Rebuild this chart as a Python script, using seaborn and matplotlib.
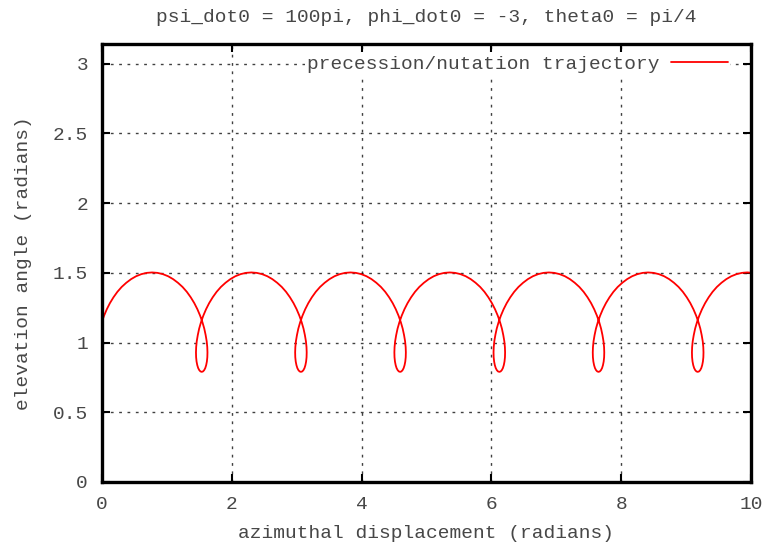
import numpy as np
import pandas as pd
import seaborn as sns
import matplotlib.pyplot as plt

# azimuth / elevation of the top's axis (one row per nutation period)
azimuth = [
    -0.032, -0.003, 0.032, 0.074, 0.122, 0.177, 0.237, 0.303, 0.374, 0.448, 0.526, 0.607, 0.689,
    0.772, 0.855, 0.937, 1.018, 1.096, 1.170, 1.241, 1.307, 1.367, 1.422, 1.470, 1.512,
    1.547, 1.576, 1.597, 1.613, 1.622, 1.625, 1.623, 1.616, 1.605, 1.591, 1.574, 1.556,

    1.537, 1.517, 1.499, 1.482, 1.468, 1.457, 1.450, 1.448, 1.451, 1.460, 1.476, 1.497,
    1.526, 1.561, 1.603, 1.651, 1.706, 1.766, 1.832, 1.903, 1.977, 2.055, 2.136, 2.218,
    2.301, 2.384, 2.466, 2.547, 2.625, 2.699, 2.770, 2.836, 2.896, 2.951, 2.999, 3.041,
    3.076, 3.105, 3.126, 3.142, 3.151, 3.154, 3.152, 3.145, 3.134, 3.120, 3.103, 3.085,

    3.065, 3.045, 3.027, 3.010, 2.996, 2.985, 2.978, 2.976, 2.979, 2.988, 3.004, 3.025,
    3.054, 3.089, 3.131, 3.179, 3.234, 3.294, 3.360, 3.431, 3.505, 3.583, 3.664, 3.746,
    3.829, 3.912, 3.994, 4.075, 4.153, 4.227, 4.298, 4.364, 4.424, 4.479, 4.527, 4.569,
    4.604, 4.633, 4.654, 4.670, 4.679, 4.682, 4.680, 4.673, 4.662, 4.648, 4.631, 4.613,

    4.594, 4.574, 4.556, 4.539, 4.525, 4.514, 4.507, 4.505, 4.508, 4.517, 4.533, 4.554,
    4.583, 4.618, 4.660, 4.708, 4.763, 4.823, 4.889, 4.960, 5.034, 5.112, 5.193, 5.275,
    5.358, 5.441, 5.523, 5.604, 5.682, 5.756, 5.827, 5.893, 5.953, 6.008, 6.056, 6.098,
    6.133, 6.162, 6.183, 6.199, 6.208, 6.211, 6.209, 6.202, 6.191, 6.177, 6.160, 6.142,

    6.122, 6.102, 6.084, 6.067, 6.053, 6.042, 6.035, 6.033, 6.036, 6.045, 6.061, 6.082,
    6.111, 6.146, 6.188, 6.236, 6.291, 6.351, 6.417, 6.488, 6.562, 6.640, 6.721, 6.803,
    6.886, 6.969, 7.051, 7.132, 7.210, 7.284, 7.355, 7.421, 7.481, 7.536, 7.584, 7.626,
    7.661, 7.690, 7.711, 7.727, 7.736, 7.739, 7.737, 7.730, 7.719, 7.705, 7.688, 7.670,

    7.651, 7.631, 7.613, 7.596, 7.582, 7.571, 7.564, 7.562, 7.565, 7.574, 7.590, 7.611,
    7.640, 7.675, 7.717, 7.765, 7.820, 7.880, 7.946, 8.017, 8.091, 8.169, 8.250, 8.332,
    8.415, 8.498, 8.580, 8.661, 8.739, 8.813, 8.884, 8.950, 9.010, 9.065, 9.113, 9.155,
    9.190, 9.219, 9.240, 9.256, 9.265, 9.268, 9.266, 9.259, 9.248, 9.234, 9.217, 9.199,

    9.179, 9.159, 9.141, 9.124, 9.110, 9.099, 9.092, 9.090, 9.093, 9.102, 9.118, 9.139,
    9.168, 9.203, 9.245, 9.293, 9.348, 9.408, 9.474, 9.545, 9.619, 9.697, 9.778, 9.860,
    9.943, 10.026, 10.108,
]
elevation = [
    1.100, 1.147, 1.193, 1.239, 1.283, 1.325, 1.364, 1.399, 1.429, 1.455, 1.476, 1.491, 1.500,
    1.503, 1.500, 1.491, 1.476, 1.455, 1.429, 1.399, 1.364, 1.325, 1.283, 1.239, 1.193,
    1.147, 1.100, 1.054, 1.010, 0.968, 0.930, 0.895, 0.864, 0.838, 0.817, 0.802, 0.793,

    0.790, 0.793, 0.802, 0.817, 0.838, 0.864, 0.895, 0.930, 0.968, 1.010, 1.054, 1.100,
    1.147, 1.193, 1.239, 1.283, 1.325, 1.364, 1.399, 1.429, 1.455, 1.476, 1.491, 1.500,
    1.503, 1.500, 1.491, 1.476, 1.455, 1.429, 1.399, 1.364, 1.325, 1.283, 1.239, 1.193,
    1.147, 1.100, 1.054, 1.010, 0.968, 0.930, 0.895, 0.864, 0.838, 0.817, 0.802, 0.793,

    0.790, 0.793, 0.802, 0.817, 0.838, 0.864, 0.895, 0.930, 0.968, 1.010, 1.054, 1.100,
    1.147, 1.193, 1.239, 1.283, 1.325, 1.364, 1.399, 1.429, 1.455, 1.476, 1.491, 1.500,
    1.503, 1.500, 1.491, 1.476, 1.455, 1.429, 1.399, 1.364, 1.325, 1.283, 1.239, 1.193,
    1.147, 1.100, 1.054, 1.010, 0.968, 0.930, 0.895, 0.864, 0.838, 0.817, 0.802, 0.793,

    0.790, 0.793, 0.802, 0.817, 0.838, 0.864, 0.895, 0.930, 0.968, 1.010, 1.054, 1.100,
    1.147, 1.193, 1.239, 1.283, 1.325, 1.364, 1.399, 1.429, 1.455, 1.476, 1.491, 1.500,
    1.503, 1.500, 1.491, 1.476, 1.455, 1.429, 1.399, 1.364, 1.325, 1.283, 1.239, 1.193,
    1.147, 1.100, 1.054, 1.010, 0.968, 0.930, 0.895, 0.864, 0.838, 0.817, 0.802, 0.793,

    0.790, 0.793, 0.802, 0.817, 0.838, 0.864, 0.895, 0.930, 0.968, 1.010, 1.054, 1.100,
    1.147, 1.193, 1.239, 1.283, 1.325, 1.364, 1.399, 1.429, 1.455, 1.476, 1.491, 1.500,
    1.503, 1.500, 1.491, 1.476, 1.455, 1.429, 1.399, 1.364, 1.325, 1.283, 1.239, 1.193,
    1.147, 1.100, 1.054, 1.010, 0.968, 0.930, 0.895, 0.864, 0.838, 0.817, 0.802, 0.793,

    0.790, 0.793, 0.802, 0.817, 0.838, 0.864, 0.895, 0.930, 0.968, 1.010, 1.054, 1.100,
    1.147, 1.193, 1.239, 1.283, 1.325, 1.364, 1.399, 1.429, 1.455, 1.476, 1.491, 1.500,
    1.503, 1.500, 1.491, 1.476, 1.455, 1.429, 1.399, 1.364, 1.325, 1.283, 1.239, 1.193,
    1.147, 1.100, 1.054, 1.010, 0.968, 0.930, 0.895, 0.864, 0.838, 0.817, 0.802, 0.793,

    0.790, 0.793, 0.802, 0.817, 0.838, 0.864, 0.895, 0.930, 0.968, 1.010, 1.054, 1.100,
    1.147, 1.193, 1.239, 1.283, 1.325, 1.364, 1.399, 1.429, 1.455, 1.476, 1.491, 1.500,
    1.503, 1.500, 1.491,
]

x_ticks = [0, 2, 4, 6, 8, 10]
y_ticks = [0, 0.5, 1, 1.5, 2, 2.5, 3]
y_tick_labels = ["0", "0.5", "1", "1.5", "2", "2.5", "3"]

df = pd.DataFrame({"azimuth": azimuth, "elevation": elevation})

sns.set_style("ticks")
plt.rcParams["font.family"] = ["Liberation Mono", "DejaVu Sans Mono"]
plt.rcParams["font.size"] = 14
text_color = "#474747"

fig = plt.figure(figsize=(7.71, 5.47), dpi=100)
ax = fig.add_axes([102 / 771, 1 - 482 / 547, 649 / 771, 438 / 547])

sns.lineplot(data=df, x="azimuth", y="elevation", sort=False, estimator=None,
             color="#ff0000", linewidth=1.3, label="precession/nutation trajectory", ax=ax)

ax.set_xlim(0, 10)
ax.set_ylim(0, np.pi)
ax.set_xticks(x_ticks)
ax.set_xticklabels([str(t) for t in x_ticks])
ax.set_yticks(y_ticks)
ax.set_yticklabels(y_tick_labels)

ax.grid(True, color="black", linestyle=(0, (2, 4)), linewidth=1.0, alpha=0.75)
ax.set_axisbelow(True)
for side in ax.spines.values():
    side.set_visible(True)
    side.set_linewidth(2.4)
    side.set_color("black")

ax.tick_params(axis="both", which="major", direction="in", length=6, width=1.5,
               top=True, right=True, labelcolor=text_color, labelsize=14, color="black")
ax.tick_params(axis="x", pad=10)
ax.tick_params(axis="y", pad=10)

ax.set_xlabel("azimuthal displacement (radians)", color=text_color, fontsize=14, labelpad=9)
ax.set_ylabel("elevation angle (radians)", color=text_color, fontsize=14, labelpad=15)
ax.set_title("psi_dot0 = 100pi, phi_dot0 = -3, theta0 = pi/4", color=text_color, fontsize=14, pad=16)

leg = ax.legend(loc="center right", bbox_to_anchor=(0.982, 0.954), markerfirst=False,
                handlelength=2.9, frameon=True, fancybox=False, borderpad=0.1,
                handletextpad=0.6, fontsize=14)
leg.get_frame().set_facecolor("white")
leg.get_frame().set_edgecolor("none")
leg.get_frame().set_alpha(1.0)
for t in leg.get_texts():
    t.set_color(text_color)

fig.savefig("out.png", dpi=100)
